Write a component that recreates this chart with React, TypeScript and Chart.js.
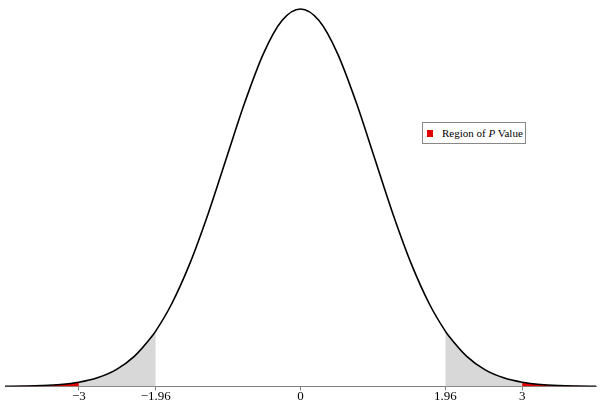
import React, { useEffect, useRef } from "react";
import { Chart, registerables } from "chart.js";

Chart.register(...registerables);

// x positions and density values
const xs = [-4, -3.75, -3.5, -3.25, -3, -2.75, -2.5, -2.25, -2, -1.96, -1.75, -1.5, -1.25, -1, -0.75, -0.5, -0.25, 0,
  0.25, 0.5, 0.75, 1, 1.25, 1.5, 1.75, 1.96, 2, 2.25, 2.5, 2.75, 3, 3.25, 3.5, 3.75, 4];
const ys = [0.0001, 0.0004, 0.0009, 0.002, 0.0044, 0.0091, 0.0175, 0.0317, 0.054, 0.0584, 0.0863, 0.1295, 0.1826, 0.242, 0.3011, 0.3521, 0.3867, 0.3989,
  0.3867, 0.3521, 0.3011, 0.242, 0.1826, 0.1295, 0.0863, 0.0584, 0.054, 0.0317, 0.0175, 0.0091, 0.0044, 0.002, 0.0009, 0.0004, 0.0001];

const tickValues = [-3, -1.96, 0, 1.96, 3];
const tickLabels = ["\u22123", "\u22121.96", "0", "1.96", "3"];
const grayCut = 1.96;
const redCut = 3;
const legendLabel = "Region of";
const legendItalic = "P";
const legendTail = "Value";

function pts(lo: number, hi: number) {
  const out: { x: number; y: number }[] = [];
  xs.forEach((x, i) => {
    if (x >= lo && x <= hi) out.push({ x, y: ys[i] });
  });
  return out;
}

export default function App() {
  const ref = useRef<HTMLCanvasElement>(null);
  useEffect(() => {
    if (!ref.current) return;
    const area = (data: any, color: string, order: number) => ({
      data,
      borderWidth: 0,
      pointRadius: 0,
      backgroundColor: color,
      fill: "origin",
      cubicInterpolationMode: "monotone",
      order,
    });
    const chart = new Chart(ref.current, {
      type: "line",
      data: {
        datasets: [
          {
            data: pts(-4, 4),
            borderColor: "#000",
            borderWidth: 1.6,
            pointRadius: 0,
            fill: false,
            cubicInterpolationMode: "monotone",
            order: 0,
          } as any,
          area(pts(-4, -redCut), "#e00000", 1),
          area(pts(redCut, 4), "#e00000", 1),
          area(pts(-4, -grayCut), "#d8d8d8", 2),
          area(pts(grayCut, 4), "#d8d8d8", 2),
        ],
      },
      options: {
        animation: false,
        responsive: false,
        maintainAspectRatio: false,
        layout: { padding: { top: 8, left: 5, right: 4, bottom: 7 } },
        plugins: { legend: { display: false }, tooltip: { enabled: false } },
        scales: {
          x: {
            type: "linear",
            min: -4,
            max: 4,
            afterBuildTicks: (axis: any) => {
              axis.ticks = tickValues.map((v) => ({ value: v }));
            },
            ticks: {
              autoSkip: false,
              maxRotation: 0,
              color: "#000",
              padding: -2,
              font: { family: "'Liberation Serif', serif", size: 13 },
              callback: (v: any) => {
                const i = tickValues.indexOf(Number(v));
                return i >= 0 ? tickLabels[i] : "";
              },
            },
            grid: { drawOnChartArea: false, drawTicks: true, tickLength: 4, color: "#808080" },
            border: { display: true, color: "#808080", width: 1 },
          },
          y: { display: false, min: 0, max: 0.4 },
        },
      },
    } as any);
    return () => chart.destroy();
  }, []);
  return (
    <div style={{ position: "fixed", left: 0, top: 0, width: 600, height: 409, background: "#fff" }}>
      <canvas ref={ref} width={600} height={409} style={{ width: 600, height: 409, display: "block" }} />
      <div
        style={{
          position: "absolute",
          left: 422,
          top: 122,
          width: 104,
          height: 22,
          border: "1px solid #888",
          background: "#fff",
          fontFamily: "'Liberation Serif', serif",
          fontSize: 11,
          display: "flex",
          alignItems: "center",
          whiteSpace: "nowrap",
          boxSizing: "border-box",
        }}
      >
        <span style={{ display: "inline-block", width: 6, height: 7, background: "#e00000", marginLeft: 4, marginRight: 9, flex: "none" }} />
        <span>
          {legendLabel} <i>{legendItalic}</i> {legendTail}
        </span>
      </div>
    </div>
  );
}
